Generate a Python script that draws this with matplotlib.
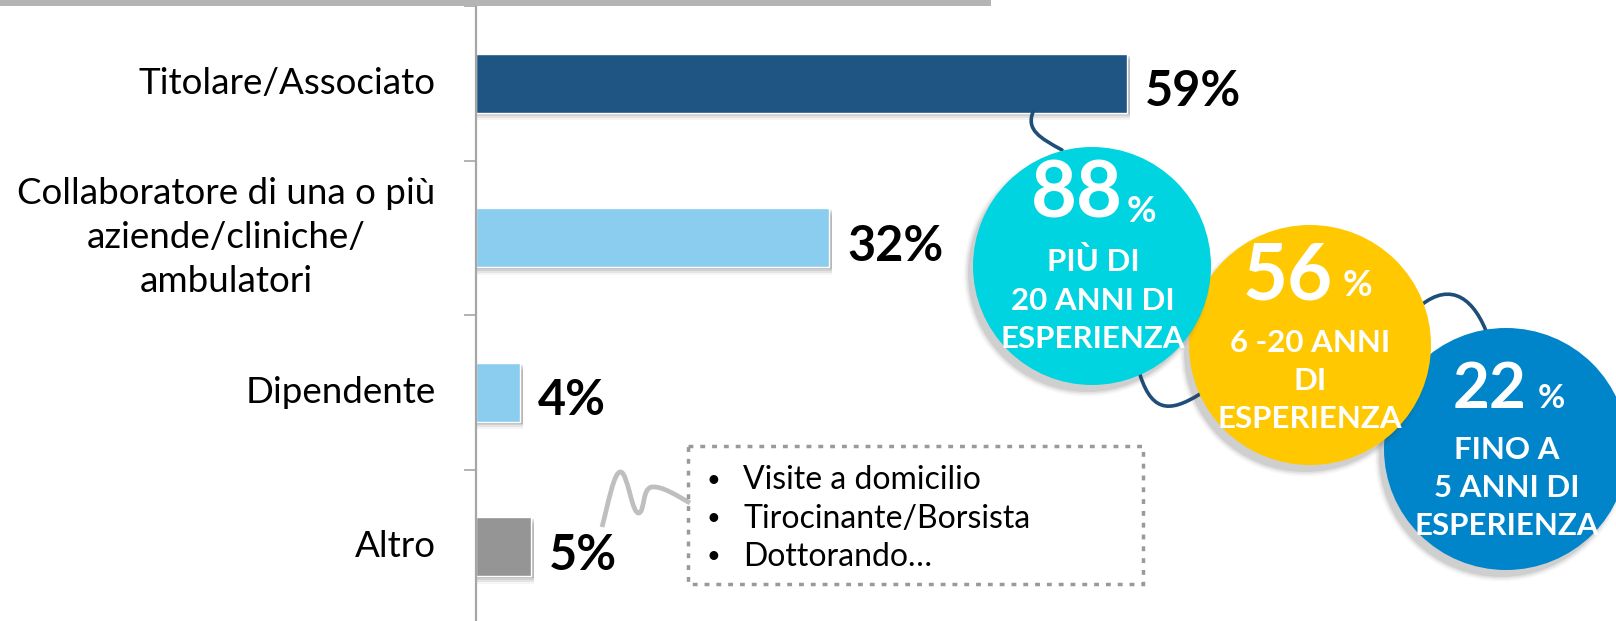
import matplotlib
matplotlib.use("Agg")
import matplotlib.pyplot as plt
from matplotlib.patches import Ellipse, Rectangle, PathPatch
from matplotlib.path import Path

plt.rcParams['font.family'] = ['Lato', 'DejaVu Sans']

# data
categories = ['Titolare/Associato',
              'Collaboratore di una o più\naziende/cliniche/\nambulatori',
              'Dipendente',
              'Altro']
values = [59, 32, 4, 5]
bar_colors = ['#1F5582', '#8ACDEE', '#8ACDEE', '#959595']

exp_values = [88, 56, 22]
exp_labels = ['PIÙ DI\n20 ANNI DI\nESPERIENZA',
              '6 -20 ANNI\nDI\nESPERIENZA',
              'FINO A\n5 ANNI DI\nESPERIENZA']
exp_colors = ['#00D4E0', '#FFC800', '#0084CA']

altro_items = ['Visite a domicilio', 'Tirocinante/Borsista', 'Dottorando…']

W, H = 1616, 621
fig = plt.figure(figsize=(W / 100, H / 100), dpi=100)

# main bar axes
ax = fig.add_axes([476 / W, 0, 1140 / W, 615 / H])
ax.set_xlim(0, 103.35)
ax.set_ylim(3.48, -0.5)
for s in ['top', 'right', 'bottom']:
    ax.spines[s].set_visible(False)
ax.spines['left'].set_color('#A6A6A6')
ax.spines['left'].set_linewidth(1.6)
ax.set_xticks([])
ax.set_yticks([-0.5, 0.5, 1.5, 2.5])
ax.set_yticklabels([])
ax.tick_params(axis='y', length=8.5, width=1.2, color='#A6A6A6')

pos = list(range(len(categories)))
bh = 0.38
# soft shadows
for d, a in [(0.012, 0.18), (0.024, 0.14), (0.036, 0.10), (0.048, 0.06)]:
    ax.barh([p + d for p in pos], [v + 0.25 for v in values], height=bh,
            left=0.0, color='#555555', alpha=a, lw=0, zorder=1)
ax.barh(pos, values, height=bh, color=bar_colors, edgecolor='white',
        linewidth=1, zorder=2)

for p, v in zip(pos, values):
    ax.annotate(f'{v}%', xy=(v, p), xytext=(13, -6), textcoords='offset points',
                ha='left', va='center', fontsize=35, fontweight='bold', color='black')
for p, c in zip(pos, categories):
    ax.annotate(c, xy=(0, p), xytext=(-29, 0), textcoords='offset points',
                ha='right', va='center', multialignment='center',
                fontsize=26.5, linespacing=1.4, color='black')

# overlay in pixel coordinates
ov = fig.add_axes([0, 0, 1, 1], zorder=5)
ov.set_xlim(0, W)
ov.set_ylim(H, 0)
ov.axis('off')
ov.patch.set_alpha(0)

# top grey strip
ov.add_patch(Rectangle((0, 0), 991, 6, color='#B4B4B4', lw=0))

# connectors
line_col = '#1F4E79'
M, C4 = Path.MOVETO, Path.CURVE4
conn = [
    [(1033, 112), (1026, 130), (1040, 138), (1062, 150)],
    [(1138, 368), (1150, 412), (1168, 414), (1200, 394)],
    [(1420, 306), (1452, 280), (1475, 300), (1488, 336)],
]
for pts in conn:
    ov.add_patch(PathPatch(Path(pts, [M, C4, C4, C4]), fill=False,
                           ec=line_col, lw=2.6, capstyle='round', zorder=1))

# grey squiggle to the box
sq = [(602, 527), (608, 505), (614, 470), (621, 472),
      (628, 474), (632, 515), (639, 513),
      (645, 511), (642, 488), (652, 487),
      (662, 486), (676, 495), (690, 503)]
ov.add_patch(PathPatch(Path(sq, [M] + [C4] * 12), fill=False, ec='#BFBFBF',
                       lw=3.4, capstyle='butt', joinstyle='round', zorder=2))

# dotted box
ov.add_patch(Rectangle((688, 446), 455, 138, fill=False, ec='#9A9A9A', lw=2.5,
                       linestyle=(0, (1.4, 2.0)), zorder=2))
for k, item in enumerate(altro_items):
    y = 480 + 38.5 * k
    ov.text(713, y, '•', ha='center', va='center', fontsize=17, color='black')
    ov.text(743, y, item, ha='left', va='center', fontsize=23, color='black')

# experience circles: centre, size, number (right x, y, size), % (left x, y, size), label pos
layout = [
    dict(c=(1092, 266), w=238, h=238, num=(1123, 196, 57), pct=(1127, 212, 26), lab=(1093, 300)),
    dict(c=(1310, 345), w=242, h=240, num=(1333, 277, 56), pct=(1343, 286, 26), lab=(1310, 381)),
    dict(c=(1506, 449), w=244, h=242, num=(1527, 390, 46), pct=(1538, 398, 24), lab=(1507, 488)),
]
order = [2, 1, 0]
for z, i in enumerate(order):
    L = layout[i]
    cx, cy = L['c']
    zb = 3 + 3 * z
    for k, a in enumerate([0.11, 0.08, 0.05, 0.03]):
        ov.add_patch(Ellipse((cx - 5, cy + 7), L['w'] + 3 * k, L['h'] + 3 * k,
                             color='#444444', alpha=a, lw=0, zorder=zb))
    ov.add_patch(Ellipse((cx, cy), L['w'], L['h'], color=exp_colors[i], lw=0, zorder=zb + 1))
    nx, ny, ns = L['num']
    ov.text(nx, ny, str(exp_values[i]), ha='right', va='center', fontsize=ns,
            fontweight='bold', color='white', zorder=zb + 2)
    px, py, ps = L['pct']
    ov.text(px, py, '%', ha='left', va='center', fontsize=ps,
            fontweight='bold', color='white', zorder=zb + 2)
    lx, ly = L['lab']
    ov.text(lx, ly, exp_labels[i], ha='center', va='center', multialignment='center',
            fontsize=22.5, fontweight='bold', color='white', linespacing=1.45, zorder=zb + 2)

fig.savefig('out.png', dpi=100)
